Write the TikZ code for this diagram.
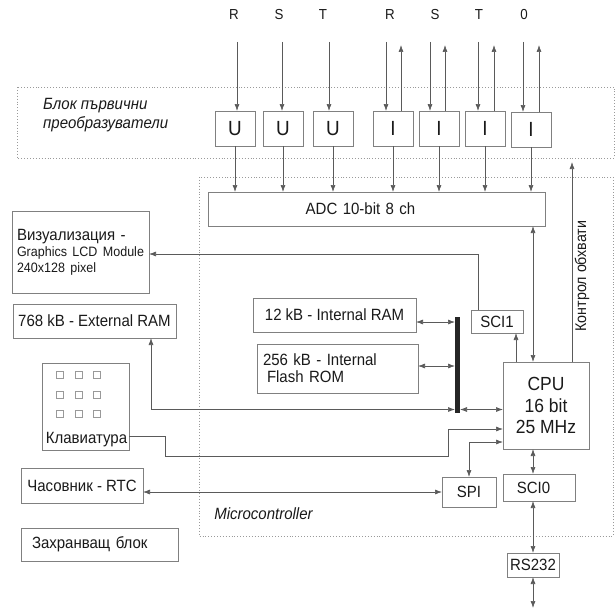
\documentclass[tikz,border=0pt]{standalone}
\usepackage{fontspec}
\setmainfont{Liberation Sans}[FakeStretch=0.92]
\usetikzlibrary{arrows.meta,calc}
\definecolor{linec}{HTML}{5A5A5A}
\definecolor{boxc}{HTML}{808080}
\definecolor{dotc}{HTML}{9A9A9A}
\definecolor{txt}{HTML}{1A1A1A}
\newcommand\fsz[2]{\fontsize{#1}{#2}\selectfont}
\begin{document}
\begin{tikzpicture}[x=1pt,y=-1pt,
  box/.style={draw=boxc,line width=0.8pt,inner sep=0pt,outer sep=0pt,anchor=north west,text=txt,font=\fsz{16.3}{18}},
  conn/.style={draw=linec,line width=0.7pt},
  arr/.style={conn,-{Latex[length=7pt,width=5pt]}},
  darr/.style={conn,{Latex[length=7pt,width=5pt]}-{Latex[length=7pt,width=5pt]}},
  dotbox/.style={draw=dotc,line width=0.9pt,dotted},
  lab/.style={text=txt,inner sep=0pt,font=\fsz{16.3}{18}},
  topl/.style={text=txt,inner sep=0pt,font=\fsz{14.5}{16}}]

\fill[white] (0,0) rectangle (615,610);
\useasboundingbox (0,0) rectangle (615,610);

% dotted frames
\draw[dotbox] (17,87) rectangle (614,158);
\draw[dotbox] (199,177) rectangle (613,536);

% top labels
\node[topl] (tR1) at (234,15) {R};
\node[topl] (tS1) at (279,15) {S};
\node[topl] (tT1) at (323,15) {T};
\node[topl] (tR2) at (390,15) {R};
\node[topl] (tS2) at (435,15) {S};
\node[topl] (tT2) at (479,15) {T};
\node[topl] (t0) at (524,15) {0};

\node[lab,font=\fsz{16.3}{19}\itshape,align=left,anchor=west] (blk) at (43,115.5) {Блок първични\\преобразуватели};

% transducers
\node[box,minimum width=40pt,minimum height=35pt,font=\fsz{20.5}{22}] (u1) at (215,111) {U};
\node[box,minimum width=40pt,minimum height=35pt,font=\fsz{20.5}{22}] (u2) at (263,111) {U};
\node[box,minimum width=40pt,minimum height=35pt,font=\fsz{20.5}{22}] (u3) at (313,111) {U};
\node[box,minimum width=40pt,minimum height=35pt,font=\fsz{20.5}{22}] (i1) at (373,111) {I};
\node[box,minimum width=40pt,minimum height=35pt,font=\fsz{20.5}{22}] (i2) at (419,111) {I};
\node[box,minimum width=40pt,minimum height=35pt,font=\fsz{20.5}{22}] (i3) at (465,111) {I};
\node[box,minimum width=40pt,minimum height=35pt,font=\fsz{20.5}{22}] (i4) at (511,112) {I};

% ADC
\node[box,minimum width=337pt,minimum height=34pt,text width=337pt,align=center] (adc) at (208,192) {\hspace*{-32pt}ADC 10-bit 8 ch};

% left column
\node[box,minimum width=137pt,minimum height=82pt,text width=131pt,inner xsep=3pt,align=left,font=\fsz{16.3}{16}] (lcd) at (12,211)
  {\hspace*{2pt}Визуализация -\\{\fsz{13.6}{16}\hspace*{2pt}Graphics LCD Module}\\{\fsz{13.6}{16}\hspace*{2pt}240x128 pixel}};
\node[box,minimum width=163pt,minimum height=34pt] (extram) at (13,304) {768 kB - External RAM};
\node[box,minimum width=87pt,minimum height=87pt] (kbd) at (42,363) {};
\foreach \cx in {60,79,97} \foreach \cy in {375,395,414}
  \draw[draw=boxc!80,line width=0.6pt] (\cx-3.5,\cy-3.5) rectangle (\cx+3.5,\cy+3.5);
\node[lab] (kbdt) at (86.5,440) {Клавиатура};
\node[box,minimum width=122pt,minimum height=35pt] (rtc) at (21,468) {Часовник - RTC};
\node[box,minimum width=157pt,minimum height=33pt,text width=157pt,align=left] (pwr) at (21,528) {\hspace*{11pt}Захранващ блок};

% memories and bus
\node[box,minimum width=163pt,minimum height=34pt] (iram) at (253,298) {12 kB - Internal RAM};
\node[box,minimum width=161pt,minimum height=49pt,text width=149pt,inner xsep=6pt,align=left,font=\fsz{16.3}{17}] (flash) at (257,344) {256 kB - Internal\\\hspace*{4pt}Flash ROM};
\node[fill=black!85,draw=none,minimum width=5pt,minimum height=96pt,inner sep=0pt,outer sep=0pt,anchor=north west] (bus) at (455,317) {};

% CPU and peripherals
\node[box,minimum width=86pt,minimum height=87pt,align=center,font=\fsz{19}{21.5}] (cpu) at (503,362) {CPU\\16 bit\\25 MHz};
\node[box,minimum width=52pt,minimum height=23pt] (sci1) at (471,310) {SCI1};
\node[box,minimum width=54pt,minimum height=30pt] (spi) at (442,477) {SPI};
\node[box,minimum width=72pt,minimum height=27pt,text width=72pt,align=center] (sci0) at (503,474) {\hspace*{-11pt}SCI0};
\node[box,minimum width=52pt,minimum height=24pt] (rs232) at (507,553) {RS232};

\node[lab,font=\fsz{16.3}{18}\itshape] (mc) at (263.5,514) {Microcontroller};
\node[lab,rotate=90,font=\fsz{15.5}{18}] (ctlt) at (582,276) {Контрол обхвати};

% inputs from the top
\coordinate (d1) at (237,42); \draw[arr] (d1) -- (d1 |- u1.north);
\coordinate (d2) at (282,42); \draw[arr] (d2) -- (d2 |- u2.north);
\coordinate (d3) at (329,42); \draw[arr] (d3) -- (d3 |- u3.north);
\coordinate (d4) at (386,42); \draw[arr] (d4) -- (d4 |- i1.north);
\coordinate (d5) at (430,42); \draw[arr] (d5) -- (d5 |- i2.north);
\coordinate (d6) at (478,42); \draw[arr] (d6) -- (d6 |- i3.north);
\coordinate (d7) at (523,42); \draw[arr] (d7) -- (d7 |- i4.north);
\coordinate (p4) at (401,45); \draw[arr] (p4 |- i1.north) -- (p4);
\coordinate (p5) at (445,45); \draw[arr] (p5 |- i2.north) -- (p5);
\coordinate (p6) at (494,45); \draw[arr] (p6 |- i3.north) -- (p6);
\coordinate (p7) at (539,45); \draw[arr] (p7 |- i4.north) -- (p7);

% transducers -> ADC
\foreach \b in {u1,u2,u3,i1,i2,i3,i4}
  \draw[arr] (\b.south) -- (\b.south |- adc.north);

% SCI1 -> LCD
\draw[arr] ([xshift=7pt]sci1.north west) |- ([yshift=-2pt]lcd.east);

% ADC <-> CPU
\coordinate (c1) at ([xshift=-13pt]cpu.north);
\draw[darr] (c1) -- (c1 |- adc.south);
% CPU -> SCI1
\coordinate (c2) at ([xshift=-30pt]cpu.north);
\draw[arr] (c2) -- (c2 |- sci1.south);
% CPU -> range control
\coordinate (c3) at ([xshift=26pt]cpu.north);
\coordinate (ctl) at (572,162);
\draw[arr] (c3) -- (c3 |- ctl);

% memories <-> bus
\coordinate (c4) at ([yshift=-7pt]iram.east);
\draw[darr] (c4) -- (c4 -| bus.west);
\coordinate (c5) at ([yshift=2.5pt]flash.east);
\draw[darr] (c5) -- (c5 -| bus.west);
\coordinate (c6) at ([yshift=-4pt]cpu.west);
\draw[darr] (c6 -| bus.east) -- (c6);
\coordinate (c7) at ([xshift=56.5pt]extram.south);
\draw[darr] (c7) |- (c6 -| bus.west);

% keyboard -> CPU
\coordinate (c8) at ([yshift=-29.5pt]kbd.east);
\coordinate (c9) at ([yshift=-23.5pt]cpu.west);
\draw[arr] (c8) -- ++(36,0) |- (448,456) |- (c9);

% SPI <-> CPU
\coordinate (c10) at ([yshift=-36.5pt]cpu.west);
\draw[darr] (spi.north) |- (c10);
% RTC <-> SPI
\draw[darr] (spi.west) -- (spi.west -| rtc.east);
% CPU <-> SCI0
\coordinate (c11) at ([xshift=-6pt]sci0.north);
\draw[darr] (c11) -- (c11 |- cpu.south);
% SCI0 <-> RS232
\draw[darr] (rs232.north) -- (rs232.north |- sci0.south);
% RS232 <-> out
\coordinate (out) at (533,608);
\draw[darr] (rs232.south) -- (rs232.south |- out);
\end{tikzpicture}
\end{document}
